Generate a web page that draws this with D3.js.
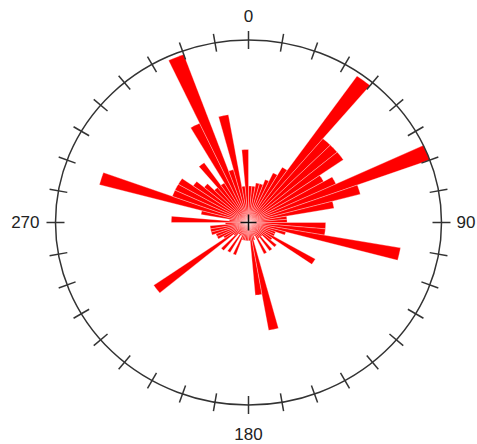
<!DOCTYPE html>
<html>
<head>
<meta charset="utf-8">
<script src="https://cdn.jsdelivr.net/npm/d3@7.9.0/dist/d3.min.js"></script>
<style>
  body { margin: 0; background: #fff; }
  svg text { font-family: "Liberation Sans", Arial, sans-serif; font-size: 17px; fill: #222; }
</style>
</head>
<body>
<svg id="rose" width="477" height="444"></svg>
<script>
// 5 degree bins, starting at 0 (north), clockwise
const binWidth = 5;
const binStarts = d3.range(0, 360, binWidth);
// relative length of each bin (1 = outer circle)
const binValues = [
  0.20, 0.20, 0.22, 0.22, 0.25, 0.30, 0.35, 0.98, 0.60, 0.60, 0.60, 0.45,
  0.50, 1.00, 0.60, 0.45, 0.20, 0.20, 0.40, 0.40, 0.80, 0.20, 0.15, 0.15,
  0.40, 0.15, 0.19, 0.10, 0.19, 0.10, 0.19, 0.08, 0.10, 0.60, 0.40, 0.10,
  0.10, 0.10, 0.10, 0.10, 0.19, 0.08, 0.19, 0.08, 0.20, 0.10, 0.60, 0.15,
  0.18, 0.18, 0.20, 0.20, 0.20, 0.12, 0.40, 0.10, 0.25, 0.80, 0.42, 0.42,
  0.42, 0.35, 0.30, 0.25, 0.40, 0.25, 0.60, 0.98, 0.30, 0.60, 0.20, 0.40
];
const tickAngles = d3.range(0, 360, 10);
const axisLabels = [0, 90, 180, 270];

const cx = 248.5, cy = 222.5, rx = 193, ry = 182.5;

const svg = d3.select('#rose');

// unit circle -> pixels
const x = d3.scaleLinear().domain([-1, 1]).range([cx - rx, cx + rx]);
const y = d3.scaleLinear().domain([-1, 1]).range([cy + ry, cy - ry]);
const rad = (deg) => deg * Math.PI / 180;

const line = d3.line()
  .x((d) => x(d.r * Math.sin(rad(d.a))))
  .y((d) => y(d.r * Math.cos(rad(d.a))));

// wedges (thin white edge gives the light seams near the centre)
const data = binStarts.map((a, i) => ({ a0: a, a1: a + binWidth, v: binValues[i] }));
svg.append('g')
  .selectAll('path')
  .data(data)
  .join('path')
  .attr('d', (d) => {
    const pts = [{ r: 0, a: d.a0 }];
    d3.range(0, 7).forEach((k) => pts.push({ r: d.v, a: d.a0 + (d.a1 - d.a0) * k / 6 }));
    return line(pts) + 'Z';
  })
  .attr('fill', '#ff0000')
  .attr('stroke', '#fff')
  .attr('stroke-width', 0.4)
  .attr('stroke-opacity', 0.8);

// outer circle
svg.append('ellipse')
  .attr('cx', x(0)).attr('cy', y(0))
  .attr('rx', x(1) - x(0)).attr('ry', y(0) - y(1))
  .attr('fill', 'none')
  .attr('stroke', '#333')
  .attr('stroke-width', 1.5);

// ticks across the circle
svg.append('g')
  .selectAll('line')
  .data(tickAngles)
  .join('line')
  .attr('x1', (a) => x(Math.sin(rad(a))) - 9 * Math.sin(rad(a)))
  .attr('y1', (a) => y(Math.cos(rad(a))) + 9 * Math.cos(rad(a)))
  .attr('x2', (a) => x(Math.sin(rad(a))) + 9 * Math.sin(rad(a)))
  .attr('y2', (a) => y(Math.cos(rad(a))) - 9 * Math.cos(rad(a)))
  .attr('stroke', '#333')
  .attr('stroke-width', 1.5);

// centre cross
svg.append('path')
  .attr('d', `M${x(0) - 8},${y(0)}H${x(0) + 8}M${x(0)},${y(0) - 8}V${y(0) + 8}`)
  .attr('stroke', '#111')
  .attr('stroke-width', 1.5);

// labels
const labelPos = {
  0: { dx: 0, dy: -18, anchor: 'middle', base: 'auto' },
  90: { dx: 15, dy: 1, anchor: 'start', base: 'middle' },
  180: { dx: 0, dy: 35, anchor: 'middle', base: 'auto' },
  270: { dx: -16, dy: 1, anchor: 'end', base: 'middle' }
};
svg.append('g')
  .selectAll('text')
  .data(axisLabels)
  .join('text')
  .attr('x', (a) => x(Math.sin(rad(a))) + labelPos[a].dx)
  .attr('y', (a) => y(Math.cos(rad(a))) + labelPos[a].dy)
  .attr('text-anchor', (a) => labelPos[a].anchor)
  .attr('dominant-baseline', (a) => labelPos[a].base)
  .text((d) => d);
</script>
</body>
</html>
